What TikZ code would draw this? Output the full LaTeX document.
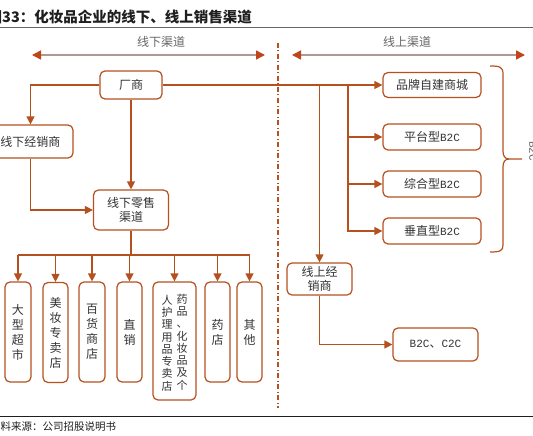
\documentclass[tikz,border=0pt]{standalone}
\usepackage{fontspec}
\setmainfont{Noto Sans CJK SC}
\newfontfamily\latmono{Liberation Mono}
\usetikzlibrary{arrows.meta}
\definecolor{rust}{HTML}{B5501F}
\definecolor{tipc}{HTML}{C0461A}
\definecolor{gline}{HTML}{B09A90}
\definecolor{txt}{HTML}{333333}
\newcommand{\bc}{{\latmono\fontsize{11}{11}\selectfont B2C}}
\begin{document}
\begin{tikzpicture}[x=1pt,y=-1pt,
  box/.style={draw=rust, line width=1.2pt, rounded corners=5pt, fill=white, inner sep=0pt, text=txt, align=center, font=\fontsize{12}{14}\selectfont},
  vbox/.style={box, minimum width=26pt, minimum height=100pt, font=\fontsize{12}{15}\selectfont},
  vtext/.style={inner sep=0pt, text=txt, align=center, font=\fontsize{11}{12.3}\selectfont},
  conn/.style={draw=rust, line width=1.2pt},
  arr/.style={conn, -{Triangle[length=8pt,width=8pt]}},
  darr/.style={draw=gline, line width=1.5pt, {Triangle[length=9pt,width=9pt,color=tipc]}-{Triangle[length=9pt,width=9pt,color=tipc]}},
  lbl/.style={inner sep=0pt, text=black!60, font=\fontsize{12}{12}\selectfont}
]
\fill[white] (0,0) rectangle (533,436);
\useasboundingbox (0,0) rectangle (533,436);

% title and rules
\node[anchor=base west, inner sep=0pt, text=black!88, font=\fontsize{14.5}{14.5}\selectfont\bfseries] (title) at (-12.5,23) {图33：化妆品企业的线下、线上销售渠道};
\draw[draw=black!60, line width=1pt] (0,28) -- (533,28);
\draw[draw=black!88, line width=1pt] (0,416) -- (533,416);
\node[anchor=base west, inner sep=0pt, text=black!88, font=\fontsize{10.5}{10.5}\selectfont] (src) at (-10,430) {资料来源：公司招股说明书};

% channel headers
\node[lbl] (offl) at (161,42) {线下渠道};
\node[lbl] (onl) at (407,42) {线上渠道};
\coordinate (a1) at (32,55);
\coordinate (a2) at (265,55);
\coordinate (a3) at (292,55);
\coordinate (a4) at (525,55);
\draw[darr] (a1) -- (a2);
\draw[darr] (a3) -- (a4);

% separator
\coordinate (s1) at (278,43);
\coordinate (s2) at (278,408);
\draw[draw=rust, line width=1.2pt, dash pattern=on 5pt off 2.5pt on 1pt off 2.5pt] (s1) -- (s2);

% offline nodes
\node[box, minimum width=62pt, minimum height=28pt] (cs) at (131,85) {厂商};
\node[box, minimum width=85pt, minimum height=33pt] (xxjx) at (30.5,141.5) {线下经销商};
\node[box, minimum width=75pt, minimum height=40pt] (ls) at (131,210) {线下零售\\渠道};

\node[vbox] (b1) at (18,332) {大\\型\\超\\市};
\node[vbox, minimum width=25pt] (b2) at (55.5,332.5) {美\\妆\\专\\卖\\店};
\node[vbox] (b3) at (92,332) {百\\货\\商\\店};
\node[vbox, minimum width=25pt] (b4) at (129.5,332) {直\\销};
\node[box, minimum width=43pt, minimum height=118pt] (b5) at (174.5,341) {};
\node[vtext] (b5r) at (182,342) {药\\品\\、\\化\\妆\\品\\及\\个};
\node[vtext] (b5l) at (167,343) {人\\护\\理\\用\\品\\专\\卖\\店};
\node[vbox, minimum width=25pt] (b6) at (217.5,332) {药\\店};
\node[vbox, minimum width=25pt] (b7) at (249.5,332) {其\\他};

% online nodes
\node[box, minimum width=98pt, minimum height=25pt] (brand) at (432,85) {品牌自建商城};
\node[box, minimum width=98pt, minimum height=26pt] (plat) at (432,137) {平台型\bc};
\node[box, minimum width=98pt, minimum height=26pt] (comp) at (432,184) {综合型\bc};
\node[box, minimum width=98pt, minimum height=26pt] (vert) at (432,231) {垂直型\bc};
\node[box, minimum width=65pt, minimum height=32pt] (xsj) at (319.5,279) {线上经\\销商};
\node[box, minimum width=85pt, minimum height=33pt] (b2c) at (435.5,344.5) {{\latmono\fontsize{11}{11}\selectfont B2C}、{\latmono\fontsize{11}{11}\selectfont C2C}};

% offline connectors
\draw[arr] (cs.west) -| (xxjx.north);
\draw[arr] (cs.south) -- (ls.north);
\draw[arr] (xxjx.south) |- (ls.west);
\coordinate (bus) at (131,255);
\draw[conn] (ls.south) -- (bus);
\draw[conn] (b1.north |- bus) -- (b7.north |- bus);
\foreach \b in {b1,b2,b3,b4,b5,b6,b7}{
  \draw[arr] (\b.north |- bus) -- (\b.north);
}

% online connectors
\coordinate (j) at (348,85);
\draw[arr] (cs.east) -- (brand.west);
\draw[arr] (cs.east -| xsj.north) -- (xsj.north);
\draw[arr] (j |- plat.west) -- (plat.west);
\draw[arr] (j |- comp.west) -- (comp.west);
\draw[arr] (j) |- (vert.west);
\draw[arr] (xsj.south) |- (b2c.west);

% brace
\draw[conn] (490,66) .. controls (500,66) and (503,67) .. (503,74) -- (503,151) .. controls (503,156) and (505,159) .. (509,159) -- (522,159);
\draw[conn] (509,159) .. controls (505,159) and (503,162) .. (503,167) -- (503,245) .. controls (503,251) and (500,252) .. (490,252);
\node[rotate=-90, inner sep=0pt, text=black!60, font=\latmono\fontsize{11}{11}\selectfont] (bl) at (533,151) {B2C};
\end{tikzpicture}
\end{document}
